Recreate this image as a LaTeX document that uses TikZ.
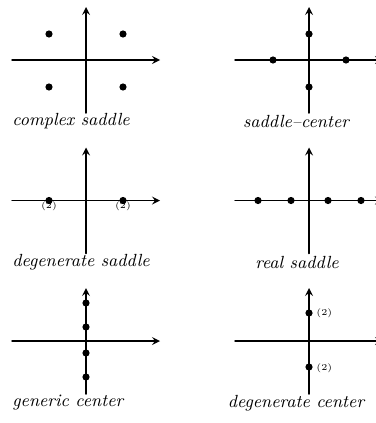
\documentclass[tikz,border=0pt]{standalone}
\begin{document}
\begin{tikzpicture}[>=stealth,line join=round,line cap=round,x=.5pt,y=-.5pt,
		axis/.style={->,line width=.75pt},
		pt/.style={circle,fill,inner sep=0pt,minimum size=3.6pt},
		caption/.style={font=\fontsize{8.8}{10}\selectfont\itshape,inner sep=0pt},
		mult/.style={font=\fontsize{4.5}{5}\selectfont,inner sep=0pt}]
	\useasboundingbox (0,0) rectangle (375,423);
	% axes of the six panels
	\foreach \cx/\cy in {86/60,309/60,86/200.5,309/200.5,86/341,309/341}{
		\draw[axis] (\cx-74,\cy)--(\cx+74,\cy);
		\draw[axis] (\cx,\cy+53)--(\cx,\cy-53);
	}
	% complex saddle
	\node[pt] (cs1) at (49,34) {};
	\node[pt] (cs2) at (123,34) {};
	\node[pt] (cs3) at (49,87) {};
	\node[pt] (cs4) at (123,87) {};
	\node[caption,anchor=west] (capcs) at (12,121) {complex saddle};
	% saddle-center
	\node[pt] (sc1) at (273,60) {};
	\node[pt] (sc2) at (346,60) {};
	\node[pt] (sc3) at (309,34) {};
	\node[pt] (sc4) at (309,87) {};
	\node[caption] (capsc) at (296,121) {saddle--center};
	% degenerate saddle
	\node[pt] (ds1) at (49,200.5) {};
	\node[pt] (ds2) at (123,200.5) {};
	\node[mult] at (49,206) {(2)};
	\node[mult] at (123,206) {(2)};
	\node[caption,anchor=west] (capds) at (12,262) {degenerate saddle};
	% real saddle
	\foreach \x [count=\i] in {258,291,328,361}
		\node[pt] (rs\i) at (\x,200.5) {};
	\node[caption] (caprs) at (297,262) {real saddle};
	% generic center
	\foreach \y [count=\i] in {303,327,353,377}
		\node[pt] (gc\i) at (86,\y) {};
	\node[caption,anchor=west] (capgc) at (12,403) {generic center};
	% degenerate center
	\node[pt] (dc1) at (309,313) {};
	\node[pt] (dc2) at (309,367) {};
	\node[mult,anchor=west] at (316,313) {(2)};
	\node[mult,anchor=west] at (316,368) {(2)};
	\node[caption] (capdc) at (296,403) {degenerate center};
\end{tikzpicture}
\end{document}
